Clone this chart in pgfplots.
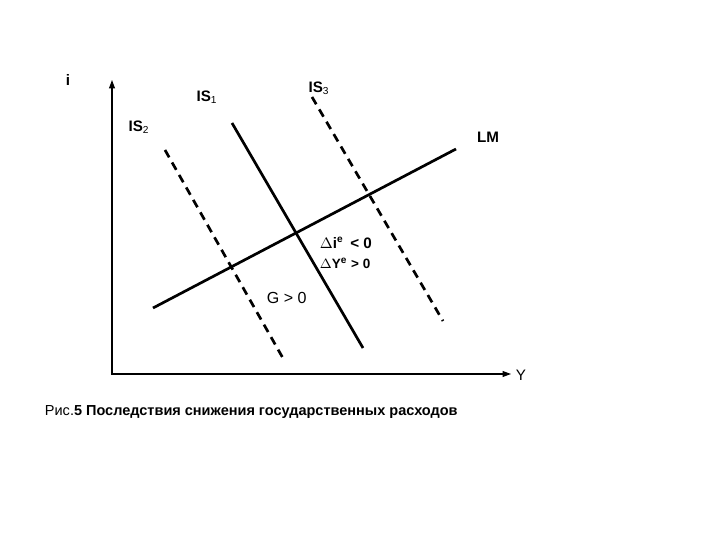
\documentclass[border=0pt]{standalone}
\usepackage{pgfplots}
\pgfplotsset{compat=1.18}
\usepackage{fontspec}
\setmainfont{Liberation Sans}
\usetikzlibrary{arrows.meta}

\begin{document}
\begin{tikzpicture}
\begin{axis}[
    width=15cm, height=11.25cm, scale only axis,
    xmin=0, xmax=720, ymin=0, ymax=540,
    y dir=reverse,
    hide axis, clip=false,
    font=\fontsize{9}{10}\selectfont,
]
% keep the whole canvas in the bounding box
\addplot[draw=none] coordinates {(0,0) (720,540)};

% axes of the diagram
\addplot[black, line width=0.6pt, -{Triangle[length=5pt,width=3.5pt]}] coordinates {(112,375) (112,80)};
\addplot[black, line width=0.6pt, -{Triangle[length=5pt,width=3.5pt]}] coordinates {(112,374) (511,374)};

% IS and LM curves
\addplot[black, line width=1.6pt] coordinates {(232,123) (363,348)};
\addplot[black, line width=1.6pt, dash pattern=on 5pt off 3.5pt] coordinates {(165,150) (284,360)};
\addplot[black, line width=1.6pt, dash pattern=on 5pt off 3.5pt] coordinates {(312,97) (443,321)};
\addplot[black, line width=1.6pt] coordinates {(153,308) (456,149)};

% labels
\node at (axis cs:68,80) {\textbf{i}};
\node at (axis cs:521,375) {Y};
\node at (axis cs:207,97) {\textbf{IS}\textsubscript{1}};
\node at (axis cs:139,127) {\textbf{IS}\textsubscript{2}};
\node at (axis cs:319,88) {\textbf{IS}\textsubscript{3}};
\node at (axis cs:488,137) {\textbf{LM}};
\node[anchor=west] at (axis cs:314,243) {\textbf{$\Delta$i\textsuperscript{e} \,< 0}};
\node[anchor=west] at (axis cs:314,263) {\fontsize{8}{9}\selectfont\textbf{$\Delta$Y\textsuperscript{e} > 0}};
\node[anchor=west] at (axis cs:261,298) {\fontsize{9.5}{10}\selectfont G > 0};
\node[anchor=west] at (axis cs:39,412) {\fontsize{8.6}{10}\selectfont Рис.\textbf{5 Последствия снижения государственных расходов}};
\end{axis}
\end{tikzpicture}
\end{document}
